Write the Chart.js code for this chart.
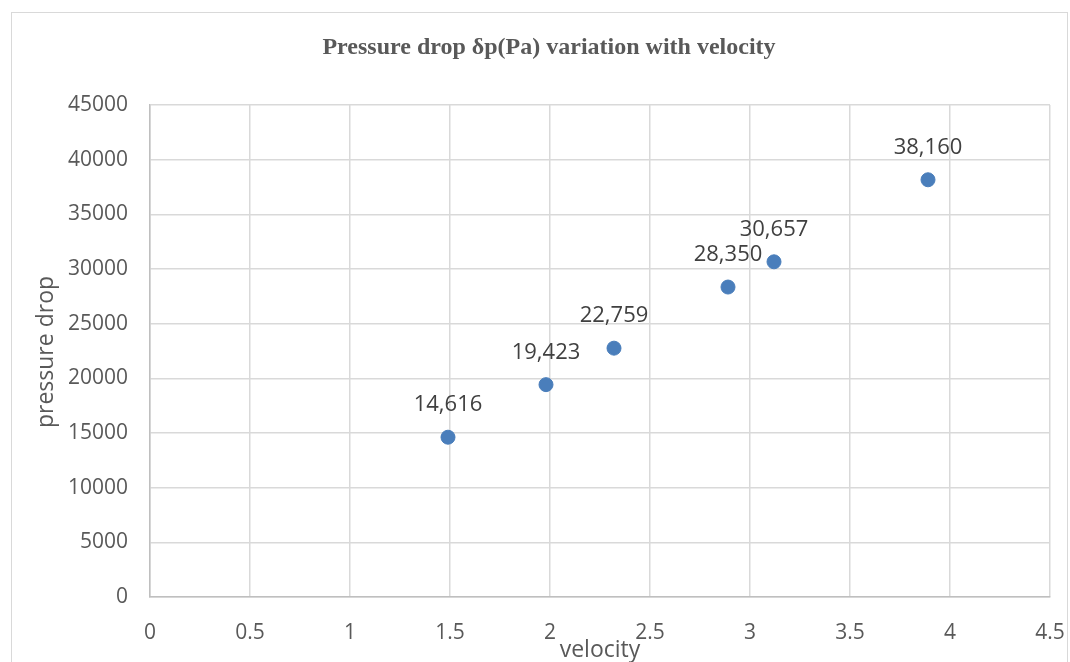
<!DOCTYPE html>
<html>
<head>
<meta charset="utf-8">
<script src="https://cdn.jsdelivr.net/npm/chart.js@4/dist/chart.umd.min.js"></script>
<style>
  html, body { margin: 0; padding: 0; background: #fff; }
  #wrap { position: relative; width: 1070px; height: 662px; }
</style>
</head>
<body>
<div id="wrap"><canvas id="chart" width="1070" height="662"></canvas></div>
<script>
var velocity = [1.49, 1.98, 2.32, 2.89, 3.12, 3.89];
var pressureDrop = [14616, 19423, 22759, 28350, 30657, 38160];
var xTicks = [0, 0.5, 1, 1.5, 2, 2.5, 3, 3.5, 4, 4.5];
var yTicks = [0, 5000, 10000, 15000, 20000, 25000, 30000, 35000, 40000, 45000];

var points = velocity.map(function (v, i) { return { x: v, y: pressureDrop[i] }; });
var FONT = "'Open Sans', 'Liberation Sans', sans-serif";

// frame, title, axis titles and point labels
var decor = {
    id: 'decor',
    beforeDraw: function (chart) {
        var ctx = chart.ctx;
        ctx.save();
        ctx.fillStyle = '#fff';
        ctx.fillRect(0, 0, chart.width, chart.height);
        ctx.strokeStyle = '#d9d9d9';
        ctx.lineWidth = 1;
        ctx.strokeRect(11.5, 12.5, 1056, 680);
        ctx.restore();
    },
    afterDatasetsDraw: function (chart) {
        var ctx = chart.ctx;
        ctx.save();
        ctx.fillStyle = '#595959';
        ctx.textAlign = 'center';
        ctx.textBaseline = 'middle';
        ctx.font = "bold 24px 'Liberation Serif', 'Times New Roman', serif";
        ctx.fillText('Pressure drop δp(Pa) variation with velocity', 549, 48);

        ctx.font = '23px ' + FONT;
        ctx.fillText('velocity', 600, 650);
        ctx.save();
        ctx.translate(46, 352);
        ctx.rotate(-Math.PI / 2);
        ctx.fillText('pressure drop', 0, 0);
        ctx.restore();

        ctx.fillStyle = '#404040';
        ctx.font = '22px ' + FONT;
        var meta = chart.getDatasetMeta(0);
        meta.data.forEach(function (el, i) {
            ctx.fillText(pressureDrop[i].toLocaleString('en-US'), el.x, el.y - 32);
        });
        ctx.restore();
    }
};

new Chart(document.getElementById('chart'), {
    type: 'scatter',
    data: {
        datasets: [{
            label: 'pressure drop',
            data: points,
            backgroundColor: '#4a7ebb',
            borderColor: '#4a7ebb',
            pointRadius: 7,
            pointHoverRadius: 7
        }]
    },
    options: {
        responsive: false,
        animation: false,
        layout: { padding: { left: 0, right: 20, top: 105, bottom: 0 } },
        plugins: {
            legend: { display: false },
            title: { display: false },
            tooltip: { enabled: false }
        },
        scales: {
            x: {
                type: 'linear',
                min: 0,
                max: 4.5,
                afterBuildTicks: function (scale) {
                    scale.ticks = xTicks.map(function (v) { return { value: v }; });
                },
                afterFit: function (scale) {
                    scale.height = 65;
                    scale.paddingLeft = 0;
                    scale.paddingRight = 0;
                },
                grid: { color: '#d9d9d9', lineWidth: 1.5, drawTicks: false },
                border: { color: '#bfbfbf', width: 1.5 },
                ticks: {
                    color: '#595959',
                    padding: 23,
                    maxRotation: 0,
                    font: { family: FONT, size: 21 },
                    callback: function (v) { return String(v); }
                }
            },
            y: {
                type: 'linear',
                min: 0,
                max: 45000,
                afterBuildTicks: function (scale) {
                    scale.ticks = yTicks.map(function (v) { return { value: v }; });
                },
                afterFit: function (scale) {
                    scale.width = 150;
                    scale.paddingTop = 0;
                    scale.paddingBottom = 0;
                },
                grid: { color: '#d9d9d9', lineWidth: 1.5, drawTicks: false },
                border: { color: '#bfbfbf', width: 1.5 },
                ticks: {
                    color: '#595959',
                    padding: 22,
                    font: { family: FONT, size: 21 },
                    callback: function (v) { return String(v); }
                }
            }
        }
    },
    plugins: [decor]
});
</script>
</body>
</html>
